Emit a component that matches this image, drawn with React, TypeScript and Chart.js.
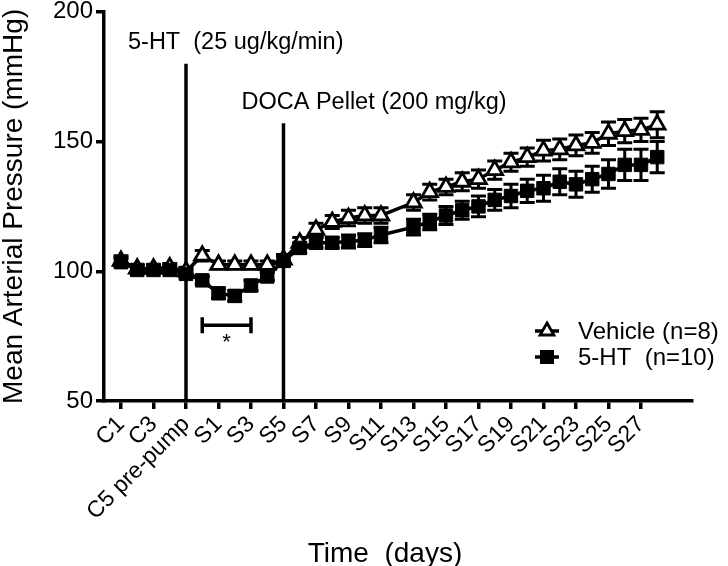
import React, { useEffect, useRef } from 'react';
import { Chart, registerables } from 'chart.js';

Chart.register(...registerables);

const FONT = "'Liberation Sans', Arial, Helvetica, sans-serif";

const categories = [
  'C1', 'C2', 'C3', 'C4', 'C5 pre-pump', 'S0',
  'S1', 'S2', 'S3', 'S4', 'S5', 'S6', 'S7', 'S8', 'S9', 'S10',
  'S11', 'S12', 'S13', 'S14', 'S15', 'S16', 'S17', 'S18', 'S19', 'S20',
  'S21', 'S22', 'S23', 'S24', 'S25', 'S26', 'S27', 'S28',
];

const tickIndices = [0, 2, 4, 6, 8, 10, 12, 14, 16, 18, 20, 22, 24, 26, 28, 30, 32];
const yTicks = [50, 100, 150, 200];

const vehicleMean = [
  104, 101, 101, 101.5, 100, 106, 102.5, 102.5, 102.5, 102.5,
  104.5, 111, 116, 119, 120.5, 121.5, 121.5, null, 126.5, 130.5,
  132.5, 134.5, 135.5, 139, 142, 144, 146.5, 147, 148.5, 149.5,
  153, 154, 154.5, 156.5,
];
const vehicleSem = [
  2, 1.5, 1.5, 1.5, 1.5, 2, 1.5, 1.5, 1.5, 1.5,
  2, 2, 2.5, 2.5, 3, 3, 3, 0, 3, 3,
  3, 3.5, 3.5, 3.5, 3.5, 3.5, 4, 4, 4, 4,
  4.5, 4.5, 4.5, 5,
];
const htMean = [
  103.5, 100.5, 100.5, 100.5, 99, 96.5, 91.5, 90.5, 94.5, 98,
  104, 109, 111, 111, 111.5, 112, 114, null, 117, 119,
  121.5, 123.5, 125, 127.5, 129, 131, 132, 134.5, 133.5, 135.5,
  137.5, 141, 141, 144,
];
const htSem = [
  1.5, 1.5, 1.5, 1.5, 1.5, 1.5, 2, 2, 2, 1.5,
  2, 2, 2, 2, 2.5, 2.5, 3, 0, 3, 3,
  3.5, 3.5, 4, 4, 4.5, 4.5, 5, 5, 5, 5,
  5.5, 6, 6, 6,
];

const seriesLabels = ['Vehicle (n=8)', '5-HT  (n=10)'];

const eventIndex = [4, 10];
const eventTop = [180, 157];
const eventText = ['5-HT  (25 ug/kg/min)', 'DOCA Pellet (200 mg/kg)'];
const eventTextValue = [188, 165];

const bracketFrom = 5;
const bracketTo = 8;
const bracketValue = 79.2;
const bracketMark = '*';

const yTitle = 'Mean Arterial Pressure (mmHg)';
const xTitle = 'Time  (days)';

function drawTriangle(ctx: CanvasRenderingContext2D, x: number, y: number, r: number) {
  ctx.beginPath();
  for (let k = 0; k < 3; k++) {
    const a = (k * 2 * Math.PI) / 3;
    const px = x + Math.sin(a) * r;
    const py = y - Math.cos(a) * r;
    if (k === 0) ctx.moveTo(px, py);
    else ctx.lineTo(px, py);
  }
  ctx.closePath();
  ctx.fillStyle = '#fff';
  ctx.fill();
  ctx.lineWidth = 2.8;
  ctx.strokeStyle = '#000';
  ctx.stroke();
}

const overlay = {
  id: 'overlay',
  beforeDatasetsDraw(chart: any) {
    const { ctx } = chart;
    const x = chart.scales.x;
    const y = chart.scales.y;
    ctx.save();
    ctx.strokeStyle = '#000';
    ctx.lineCap = 'butt';
    ctx.lineWidth = 3.5;
    eventIndex.forEach((idx, k) => {
      const px = x.getPixelForValue(idx);
      ctx.beginPath();
      ctx.moveTo(px, y.getPixelForValue(eventTop[k]));
      ctx.lineTo(px, y.getPixelForValue(50));
      ctx.stroke();
    });
    ctx.lineWidth = 3;
    const sets: [Array<number | null>, number[]][] = [
      [vehicleMean, vehicleSem],
      [htMean, htSem],
    ];
    sets.forEach(([m, e]) => {
      m.forEach((v, i) => {
        if (v == null) return;
        const px = x.getPixelForValue(i);
        const t = y.getPixelForValue(v + e[i]);
        const b = y.getPixelForValue(v - e[i]);
        ctx.beginPath();
        ctx.moveTo(px, t);
        ctx.lineTo(px, b);
        ctx.moveTo(px - 7.5, t);
        ctx.lineTo(px + 7.5, t);
        ctx.moveTo(px - 7.5, b);
        ctx.lineTo(px + 7.5, b);
        ctx.stroke();
      });
    });
    ctx.restore();
  },
  afterDraw(chart: any) {
    const { ctx, chartArea } = chart;
    const x = chart.scales.x;
    const y = chart.scales.y;
    ctx.save();
    ctx.fillStyle = '#000';
    ctx.strokeStyle = '#000';
    ctx.font = `23.5px ${FONT}`;
    ctx.textBaseline = 'middle';
    ctx.textAlign = 'left';
    const offsets = [-58, -42];
    eventIndex.forEach((idx, k) => {
      const px = x.getPixelForValue(idx);
      ctx.fillText(eventText[k], px + offsets[k], y.getPixelForValue(eventTextValue[k]));
    });
    const bx1 = x.getPixelForValue(bracketFrom);
    const bx2 = x.getPixelForValue(bracketTo);
    const by = y.getPixelForValue(bracketValue);
    ctx.lineWidth = 3.5;
    ctx.beginPath();
    ctx.moveTo(bx1, by);
    ctx.lineTo(bx2, by);
    ctx.moveTo(bx1, by - 8);
    ctx.lineTo(bx1, by + 8);
    ctx.moveTo(bx2, by - 8);
    ctx.lineTo(bx2, by + 8);
    ctx.stroke();
    ctx.font = `22px ${FONT}`;
    ctx.textAlign = 'center';
    ctx.fillText(bracketMark, (bx1 + bx2) / 2, by + 18);
    const lx = chartArea.right - 157;
    const rows = [331, 357];
    ctx.font = `24px ${FONT}`;
    ctx.textAlign = 'left';
    rows.forEach((ry, k) => {
      ctx.lineWidth = 3.5;
      ctx.beginPath();
      ctx.moveTo(lx, ry);
      ctx.lineTo(lx + 24, ry);
      ctx.stroke();
      if (k === 0) {
        drawTriangle(ctx, lx + 12, ry, 8);
      } else {
        ctx.fillStyle = '#000';
        ctx.fillRect(lx + 5, ry - 7, 14, 14);
      }
      ctx.fillStyle = '#000';
      ctx.fillText(seriesLabels[k], lx + 43, ry + 1);
    });
    ctx.font = `28px ${FONT}`;
    ctx.textAlign = 'center';
    ctx.textBaseline = 'alphabetic';
    ctx.fillText(xTitle, 385, 562);
    ctx.restore();
  },
};

export default function App() {
  const ref = useRef<HTMLCanvasElement | null>(null);
  useEffect(() => {
    if (!ref.current) return;
    const chart = new Chart(ref.current, {
      type: 'line',
      data: {
        datasets: [
          {
            label: seriesLabels[0],
            data: vehicleMean.map((v, i) => ({ x: i, y: v as any })),
            borderColor: '#000',
            borderWidth: 3.5,
            pointStyle: 'triangle',
            pointRadius: 9,
            pointBackgroundColor: '#fff',
            pointBorderColor: '#000',
            pointBorderWidth: 2.8,
            spanGaps: true,
            tension: 0,
            order: 1,
          },
          {
            label: seriesLabels[1],
            data: htMean.map((v, i) => ({ x: i, y: v as any })),
            borderColor: '#000',
            borderWidth: 3.5,
            pointStyle: 'rect',
            pointRadius: 9.5,
            pointBackgroundColor: '#000',
            pointBorderColor: '#000',
            pointBorderWidth: 1,
            spanGaps: true,
            tension: 0,
            order: 0,
          },
        ],
      },
      options: {
        responsive: false,
        animation: false,
        devicePixelRatio: 1,
        layout: { padding: { top: 10, right: 36, left: 0, bottom: 0 } },
        plugins: { legend: { display: false }, tooltip: { enabled: false } },
        scales: {
          x: {
            type: 'linear',
            min: -1.046,
            max: 35.14,
            afterBuildTicks: (s: any) => {
              s.ticks = tickIndices.map((v) => ({ value: v }));
            },
            afterFit: (s: any) => {
              s.height = 165;
              s.paddingLeft = 0;
              s.paddingRight = 0;
            },
            grid: {
              display: true,
              drawOnChartArea: false,
              drawTicks: true,
              tickLength: 8,
              tickWidth: 3.5,
              tickColor: '#000',
              color: '#000',
              lineWidth: 3.5,
            },
            border: { display: true, color: '#000', width: 3.5 },
            ticks: {
              autoSkip: false,
              maxRotation: 45,
              minRotation: 45,
              color: '#000',
              padding: 2,
              font: { family: FONT, size: 23 },
              callback: (v: any) => categories[v as number],
            },
          },
          y: {
            min: 50,
            max: 200,
            afterBuildTicks: (s: any) => {
              s.ticks = yTicks.map((v) => ({ value: v }));
            },
            afterFit: (s: any) => {
              s.width = 104;
              s.paddingTop = 0;
              s.paddingBottom = 0;
            },
            grid: {
              display: true,
              drawOnChartArea: false,
              drawTicks: true,
              tickLength: 8,
              tickWidth: 3.5,
              tickColor: '#000',
              color: '#000',
              lineWidth: 3.5,
            },
            border: { display: true, color: '#000', width: 3.5 },
            ticks: {
              color: '#000',
              padding: 3,
              font: { family: FONT, size: 24 },
            },
            title: {
              display: true,
              text: yTitle,
              color: '#000',
              padding: 0,
              font: { family: FONT, size: 28, lineHeight: 1 },
            },
          },
        },
      },
      plugins: [overlay],
    });
    return () => chart.destroy();
  }, []);
  return (
    <div style={{ position: 'fixed', left: 0, top: 0, width: 728, height: 566, background: '#fff' }}>
      <canvas ref={ref} width={728} height={566} style={{ display: 'block' }} />
    </div>
  );
}
